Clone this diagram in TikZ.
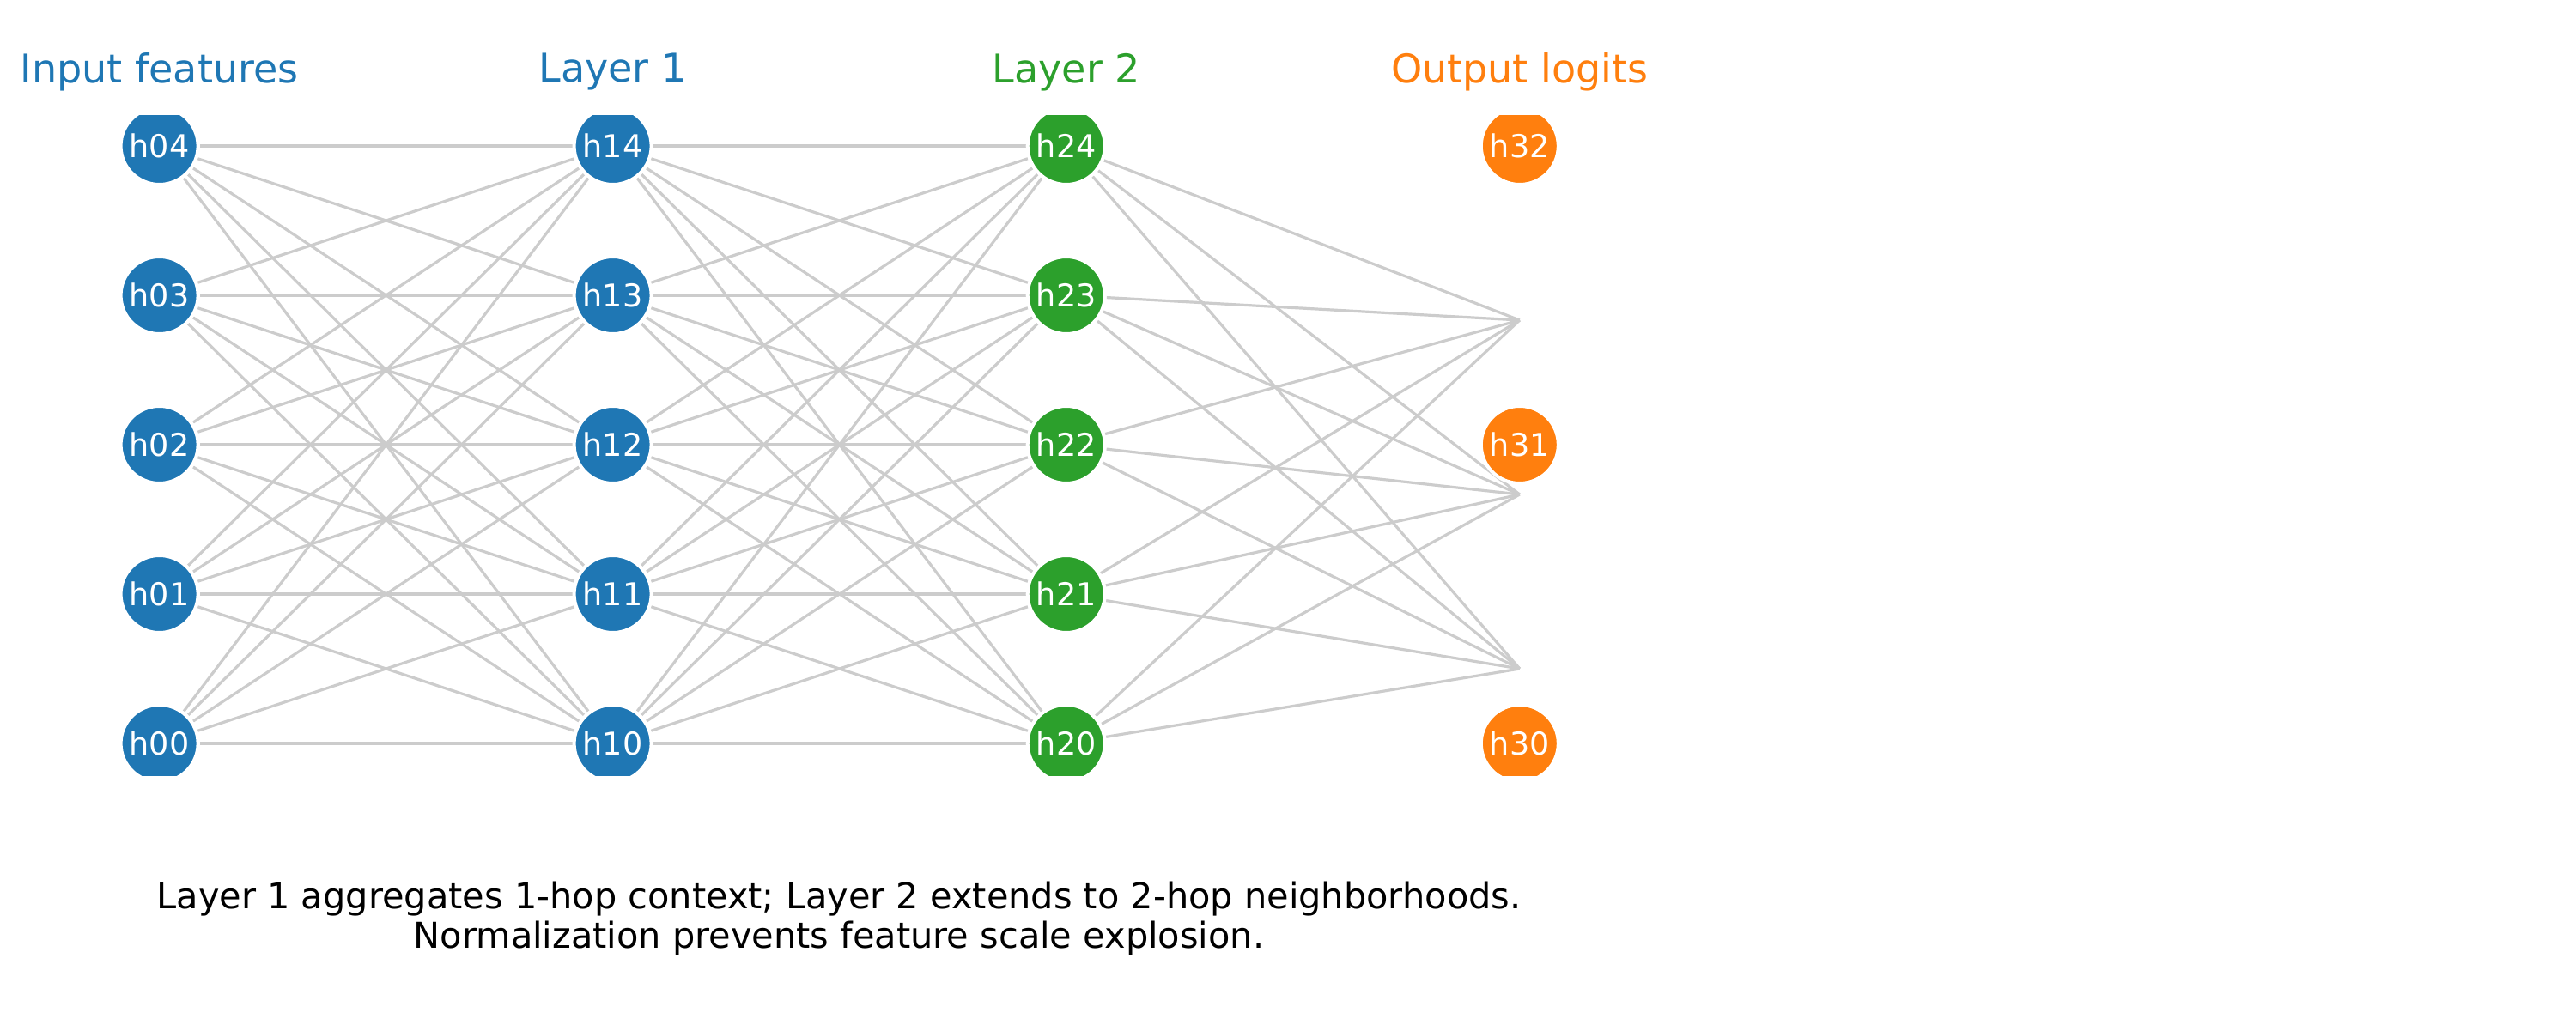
\documentclass[tikz,border=0pt]{standalone}
\usepackage{fontspec}
\setmainfont{DejaVu Sans}
\usetikzlibrary{backgrounds}
\definecolor{tabblue}{HTML}{1F77B4}
\definecolor{tabgreen}{HTML}{2CA02C}
\definecolor{taborange}{HTML}{FF7F0E}

\begin{document}
\begin{tikzpicture}[
  unit/.style={circle, draw=white, line width=0.04cm, minimum size=0.90cm,
               inner sep=0pt, text=white, font=\fontsize{10.4}{12}\selectfont},
  lbl/.style={font=\fontsize{13.1}{16}\selectfont},
  edge/.style={black!20, line width=0.032cm},
]
\useasboundingbox (0,0) rectangle (30,12);

% ---------------- layer names -------------------------------------------
\node[lbl, text=tabblue]   (t0) at (1.856, 11.16)  {Input features};
\node[lbl, text=tabblue]   (t1) at (7.136, 11.16)  {Layer 1};
\node[lbl, text=tabgreen]  (t2) at (12.417, 11.16) {Layer 2};
\node[lbl, text=taborange] (t3) at (17.698, 11.16) {Output logits};

% ---------------- units (clipped to the axes) ---------------------------
\begin{scope}
\clip (0, 2.97) rectangle (30, 10.65);
\foreach \l/\x/\c in {0/1.856/tabblue, 1/7.136/tabblue, 2/12.417/tabgreen} {
  \foreach \i in {0,...,4} {
    \node[unit, fill=\c] (h\l\i) at (\x, {3.34+1.74*\i}) {h\l\i};
  }
}
\foreach \i/\y in {0/3.34, 1/6.82, 2/10.30} {
  \node[unit, fill=taborange] (h3\i) at (17.698, \y) {h3\i};
}
\end{scope}

% ---------------- loose ends of the last layer --------------------------
\foreach \j/\y in {0/4.21, 1/6.24, 2/8.27} {
  \coordinate (o\j) at (17.698, \y);
}

% ---------------- connections -------------------------------------------
\begin{scope}[on background layer]
\foreach \a in {0,...,4} {
  \foreach \b in {0,...,4} {
    \draw[edge] (h0\a) -- (h1\b);
    \draw[edge] (h1\a) -- (h2\b);
  }
  \foreach \j in {0,1,2} {
    \draw[edge] (h2\a) -- (o\j);
  }
}
\end{scope}

% ---------------- caption -----------------------------------------------
\node[font=\fontsize{11.8}{13.1}\selectfont, align=center] (cap) at (9.77, 1.30)
  {Layer 1 aggregates 1-hop context; Layer 2 extends to 2-hop neighborhoods.\\
   Normalization prevents feature scale explosion.};

\end{tikzpicture}
\end{document}
